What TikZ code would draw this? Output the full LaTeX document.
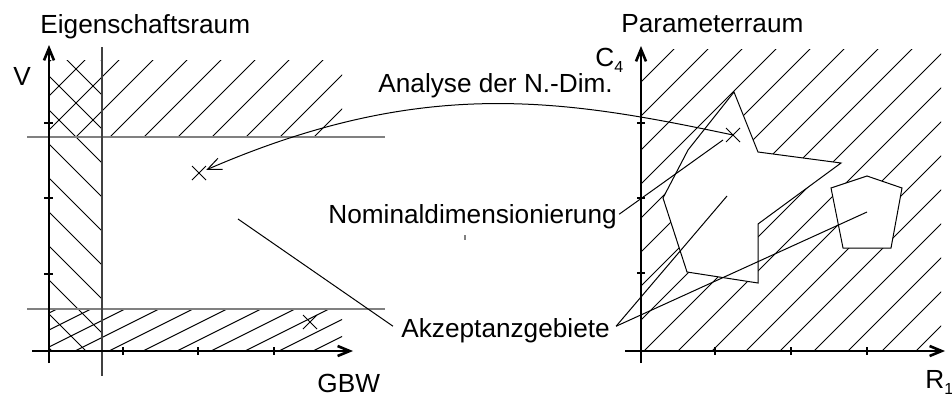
\documentclass[tikz,border=0pt]{standalone}
\usepackage{fontspec}
\setmainfont{Liberation Sans}
\usetikzlibrary{arrows.meta}

\begin{document}
\begin{tikzpicture}[x=0.5pt,y=-0.5pt,
  achse/.style={line width=1.3pt,-{Straight Barb[length=6pt,width=5pt]}},
  strich/.style={line width=1.3pt},
  schraffur/.style={line width=0.5pt},
  grenze/.style={gray,line width=0.7pt},
  zeiger/.style={line width=0.5pt},
  txt/.style={anchor=base west,inner sep=0pt},
  font=\fontsize{13.1}{15}\selectfont]
\useasboundingbox (0,0) rectangle (952,397);

% Eigenschaftsraum
\begin{scope}
\clip (49,60) rectangle (342,137);
\foreach \d in {111,145,...,485} \draw[schraffur] (\d-400,400) -- (\d,0);
\end{scope}
\begin{scope}
\clip (49,60) rectangle (102,351);
\foreach \c in {-41,-7,...,299} \draw[schraffur] (0,\c) -- (400,\c+400);
\end{scope}
\begin{scope}
\clip (49,309) rectangle (342,351);
\foreach \e in {641,675,...,1049} \draw[schraffur] (\e-800,400) -- (\e,0);
\end{scope}
\draw[grenze] (27,137) -- (385,137);
\draw[grenze] (27,309) -- (385,309);
\draw[darkgray,line width=0.6pt] (102,47) -- (102,376);
\draw[achse] (49,363) -- (49,45);
\draw[achse] (32,351) -- (353,351);
\foreach \t in {123,198,274} {
  \draw[strich] (44,\t) -- (53,\t);
  \draw[strich] (\t,347) -- (\t,355);
}

% Parameterraum
\begin{scope}
\clip (641,49) rectangle (941,351);
\foreach \d in {689,723,...,1267} \draw[schraffur] (\d-400,400) -- (\d,0);
\end{scope}
\draw[fill=white,line width=0.5pt] (734,92) -- (758,152) -- (841,163) -- (758,224) -- (758,283)
  -- (687,272) -- (663,198) -- (688,150) -- cycle;
\draw[fill=white,line width=0.5pt] (867,176) -- (902,188) -- (891,248) -- (843,248) -- (831,188) -- cycle;
\draw[achse] (641,363) -- (641,46);
\draw[achse] (625,351) -- (945,351);
\foreach \t in {123,198,273} \draw[strich] (637,\t) -- (645,\t);
\foreach \t in {715,791,867} \draw[strich] (\t,347) -- (\t,355);

% Punkte
\coordinate (kreuzL) at (199,173);
\coordinate (kreuzR) at (310,322);
\coordinate (kreuzN) at (733,135);
\foreach \p in {kreuzL,kreuzR,kreuzN}
  \draw[zeiger] (\p)+(-7,-7) -- +(7,7) (\p)+(-7,7) -- +(7,-7);
\draw[gray,line width=0.6pt] (465,235) -- (465,240);

% Beschriftung
\node[txt] (eig) at (40,33) {Eigenschaftsraum};
\node[txt] (par) at (621,32) {Parameterraum};
\node[txt] (v) at (13,85) {V};
\node[txt] (gbw) at (317,392) {GBW};
\node[txt] (c4) at (595,66) {C\raisebox{-0.45ex}{\fontsize{8}{8}\selectfont 4}};
\node[txt] (r1) at (925,388) {R\raisebox{-0.45ex}{\fontsize{8}{8}\selectfont 1}};
\node[txt] (ana) at (378,92) {Analyse der N.-Dim.};
\node[txt] (nom) at (328,223) {Nominaldimensionierung};
\node[txt] (akz) at (401,337) {Akzeptanzgebiete};

% Zeiger
\coordinate (nomziel) at (723,140);
\coordinate (akzstern) at (727,196);
\coordinate (akzfuenf) at (867,212);
\coordinate (akzlinks) at (238,219);
\draw[zeiger,-{Straight Barb[length=7pt,width=6pt]},shorten >=4pt]
  (kreuzN) .. controls (562,99) and (423,76) .. (kreuzL);
\draw[zeiger] ([xshift=1pt,yshift=1pt]nom.east) -- (nomziel);
\draw[zeiger] ([xshift=3pt,yshift=2pt]akz.east) -- (akzstern);
\draw[zeiger] ([xshift=3pt,yshift=2pt]akz.east) -- (akzfuenf);
\draw[zeiger] ([xshift=-4pt,yshift=2pt]akz.west) -- (akzlinks);
\end{tikzpicture}
\end{document}
